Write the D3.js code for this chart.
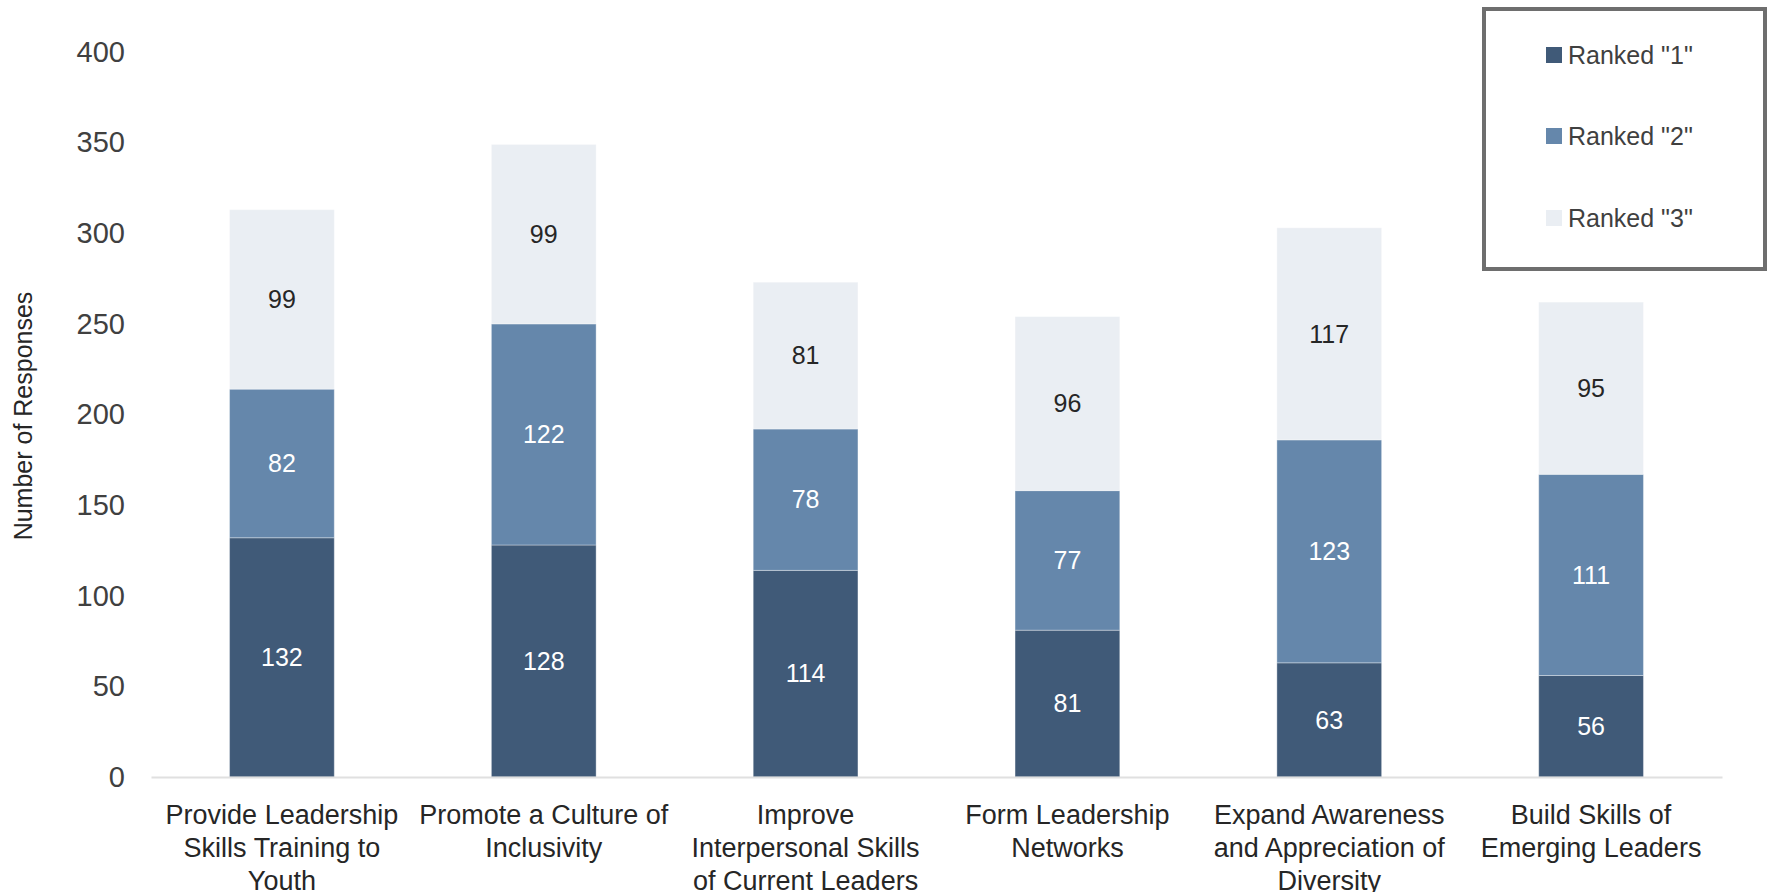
<!DOCTYPE html>
<html>
<head>
<meta charset="utf-8">
<script src="https://cdn.jsdelivr.net/npm/d3@7"></script>
<style>
  html, body { margin: 0; padding: 0; background: #fff; }
  svg { display: block; font-family: "Liberation Sans", Arial, sans-serif; }
</style>
</head>
<body>
<svg id="chart" width="1775" height="892"></svg>
<script>
const categories = [
  ["Provide Leadership", "Skills Training to", "Youth"],
  ["Promote a Culture of", "Inclusivity"],
  ["Improve", "Interpersonal Skills", "of Current Leaders"],
  ["Form Leadership", "Networks"],
  ["Expand Awareness", "and Appreciation of", "Diversity"],
  ["Build Skills of", "Emerging Leaders"]
];
const seriesNames = ['Ranked "1"', 'Ranked "2"', 'Ranked "3"'];
const ranked1 = [132, 128, 114, 81, 63, 56];
const ranked2 = [82, 122, 78, 77, 123, 111];
const ranked3 = [99, 99, 81, 96, 117, 95];
const yTicks = [0, 50, 100, 150, 200, 250, 300, 350, 400];
const yTitle = "Number of Responses";

const colors = ["#405a78", "#6587ab", "#eaeef3"];
const labelColors = ["#ffffff", "#ffffff", "#262626"];

const svg = d3.select("#chart");
const margin = { left: 151, right: 1722, top: 52, bottom: 777 };

const x = d3.scaleBand()
  .domain(d3.range(categories.length))
  .range([margin.left, margin.right])
  .paddingInner(0.6)
  .paddingOuter(0.3);

const y = d3.scaleLinear().domain([0, 400]).range([margin.bottom, margin.top]);

const table = categories.map((c, i) => ({ i, r1: ranked1[i], r2: ranked2[i], r3: ranked3[i] }));
const stack = d3.stack().keys(["r1", "r2", "r3"])(table);

// y axis tick labels
const yAxis = d3.axisLeft(y).tickValues(yTicks).tickSize(0).tickPadding(0);
const gy = svg.append("g").attr("transform", "translate(125,0)").call(yAxis);
gy.select(".domain").remove();
gy.selectAll("text")
  .attr("font-size", 29)
  .attr("fill", "#404040")
  .attr("font-family", '"Liberation Sans", Arial, sans-serif');

// bars
stack.forEach((layer, si) => {
  const g = svg.append("g");
  g.selectAll("rect").data(layer).join("rect")
    .attr("x", d => x(d.data.i))
    .attr("width", x.bandwidth())
    .attr("y", d => y(d[1]))
    .attr("height", d => y(d[0]) - y(d[1]))
    .attr("fill", colors[si])
    .attr("stroke", "rgba(255,255,255,0.35)")
    .attr("stroke-width", 1);
  g.selectAll("text").data(layer).join("text")
    .attr("x", d => x(d.data.i) + x.bandwidth() / 2)
    .attr("y", d => (y(d[0]) + y(d[1])) / 2)
    .attr("dy", "0.35em")
    .attr("text-anchor", "middle")
    .attr("font-size", 25)
    .attr("fill", labelColors[si])
    .text(d => d[1] - d[0]);
});

// x axis line
const xAxis = d3.axisBottom(x).tickSize(0).tickFormat("");
const gx = svg.append("g").attr("transform", `translate(0,${margin.bottom})`).call(xAxis);
gx.select(".domain").attr("stroke", "#e0e0e0").attr("stroke-width", 2);

// category labels
categories.forEach((lines, i) => {
  const t = svg.append("text")
    .attr("text-anchor", "middle")
    .attr("font-size", 27)
    .attr("fill", "#262626");
  lines.forEach((ln, li) => {
    t.append("tspan")
      .attr("x", x(i) + x.bandwidth() / 2)
      .attr("y", 815 + li * 33)
      .attr("dy", "0.35em")
      .text(ln);
  });
});

// y title
svg.append("text")
  .attr("transform", "translate(23,416) rotate(-90)")
  .attr("text-anchor", "middle")
  .attr("dy", "0.35em")
  .attr("font-size", 25)
  .attr("fill", "#262626")
  .text(yTitle);

// legend
const lg = svg.append("g");
lg.append("rect")
  .attr("x", 1484).attr("y", 9).attr("width", 281).attr("height", 260)
  .attr("fill", "#fff").attr("stroke", "#6e6e6e").attr("stroke-width", 4);
const legendY = [55, 136, 218];
seriesNames.forEach((name, i) => {
  lg.append("rect")
    .attr("x", 1546).attr("y", legendY[i] - 8).attr("width", 16).attr("height", 16)
    .attr("fill", colors[i]);
  lg.append("text")
    .attr("x", 1568).attr("y", legendY[i]).attr("dy", "0.35em")
    .attr("font-size", 25).attr("fill", "#404040")
    .text(name);
});
</script>
</body>
</html>
